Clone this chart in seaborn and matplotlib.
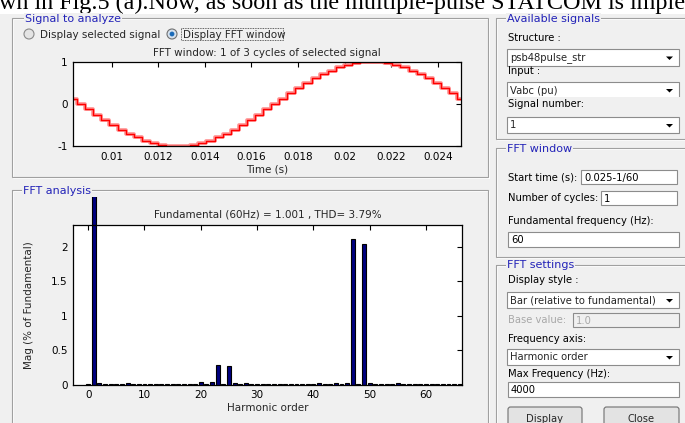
import numpy as np
import pandas as pd
import matplotlib
matplotlib.use("Agg")
import matplotlib.pyplot as plt
import seaborn as sns
from matplotlib.patches import Rectangle, Circle, Polygon, FancyBboxPatch
from matplotlib.transforms import Bbox, TransformedBbox
from matplotlib.ticker import FuncFormatter

# ---------------- data ----------------
fft_window_start = 0.025 - 1 / 60
fft_window_end = 0.025
first_step_time = 0.00851
step_period = 1 / 2880
signal_levels = [0.00, -0.13, -0.26, -0.38, -0.50, -0.61, -0.71, -0.79, -0.87, -0.92,
                 -0.97, -0.99, -1.00, -0.99, -0.97, -0.92, -0.87, -0.79, -0.71, -0.61,
                 -0.50, -0.38, -0.26, -0.13, 0.00, 0.13, 0.26, 0.38, 0.50, 0.61,
                 0.71, 0.79, 0.87, 0.92, 0.97, 0.99, 1.00, 0.99, 0.97, 0.92,
                 0.87, 0.79, 0.71, 0.61, 0.50, 0.38, 0.26, 0.13]

harmonic_order = list(range(0, 67))
magnitude_pct = [0.006, 100.0, 0.02, 0.006, 0.006, 0.006, 0.006, 0.02, 0.006, 0.006,   # 0-9
                 0.006, 0.006, 0.006, 0.006, 0.006, 0.006, 0.006, 0.006, 0.006, 0.006,  # 10-19
                 0.032, 0.006, 0.032, 0.28, 0.006, 0.268, 0.03, 0.006, 0.03, 0.006,     # 20-29
                 0.006, 0.006, 0.006, 0.006, 0.006, 0.006, 0.006, 0.006, 0.006, 0.006,  # 30-39
                 0.006, 0.02, 0.006, 0.006, 0.02, 0.006, 0.02, 2.12, 0.006, 2.04,       # 40-49
                 0.025, 0.006, 0.006, 0.006, 0.006, 0.02, 0.006, 0.006, 0.006, 0.006,   # 50-59
                 0.006, 0.006, 0.006, 0.006, 0.006, 0.006, 0.006]                       # 60-66

time_ticks = [0.01, 0.012, 0.014, 0.016, 0.018, 0.02, 0.022, 0.024]
signal_ticks = [-1, 0, 1]
harmonic_ticks = [0, 10, 20, 30, 40, 50, 60]
mag_ticks = [0, 0.5, 1, 1.5, 2]

top_title = "FFT window: 1 of 3 cycles of selected signal"
bottom_title = "Fundamental (60Hz) = 1.001 , THD= 3.79%"
caption_text = "wn in Fig.5 (a).Now, as soon as the multiple-pulse STATCOM is imple"

# step signal table
step_times = [fft_window_start] + [first_step_time + k * step_period for k in range(len(signal_levels))] + [fft_window_end]
step_values = [signal_levels[-1]] + signal_levels + [signal_levels[-1]]
sig_df = pd.DataFrame({"t": step_times, "v": step_values})
fft_df = pd.DataFrame({"h": harmonic_order, "m": magnitude_pct})

# ---------------- figure ----------------
W, H = 685, 423
GUI_BG = "#f0f0f0"
TITLE_BLUE = "#2323b8"
FS = 7.5
FS_PANEL = 7.2

sns.set_theme(style="white")
plt.rcParams["font.family"] = ["DejaVu Sans"]

fig = plt.figure(figsize=(W / 100, H / 100), dpi=100, facecolor=GUI_BG)
bg = fig.add_axes([0, 0, 1, 1], zorder=0)
bg.set_xlim(0, W)
bg.set_ylim(H, 0)
bg.axis("off")
bg.set_facecolor(GUI_BG)


def ax_rect(l, t, r, b):
    return [l / W, 1 - b / H, (r - l) / W, (b - t) / H]


# top white strip with the (cut-off) caption text of the surrounding document
bg.add_patch(Rectangle((0, 0), W, 14, fc="white", ec="none"))
bg.text(-1, 9.5, caption_text, family=["Liberation Serif"], fontsize=17.4, va="baseline", ha="left",
        color="black", clip_on=True)


def frame(x0, y0, x1, y1, title, tx):
    bg.add_patch(Rectangle((x0 + 1, y0 + 1), x1 - x0, y1 - y0, fill=False, ec="white", lw=0.8))
    bg.add_patch(Rectangle((x0, y0), x1 - x0, y1 - y0, fill=False, ec="#a0a0a0", lw=0.8))
    bg.text(tx, y0 + 0.5, title, color=TITLE_BLUE, fontsize=8, va="center", ha="left",
            bbox=dict(fc=GUI_BG, ec="none", pad=0.6))


frame(12, 18, 488, 177, "Signal to analyze", 25)
frame(12, 190, 488, 445, "FFT analysis", 23)
frame(496, 18, 700, 139, "Available signals", 507)
frame(496, 148, 700, 257, "FFT window", 507)
frame(496, 265, 700, 445, "FFT settings", 507)

# radio buttons
bg.add_patch(Circle((29, 34), 5, fc="#e4e4e4", ec="#8a8a8a", lw=0.8))
bg.text(40, 34.5, "Display selected signal", fontsize=FS, va="center", ha="left")
bg.add_patch(Circle((172, 34), 5, fc="#d6e2ee", ec="#707070", lw=0.8))
bg.add_patch(Circle((172, 34), 2.4, fc="#1a6ab8", ec="none"))
bg.text(183, 34.5, "Display FFT window", fontsize=FS, va="center", ha="left")
bg.add_patch(Rectangle((181.5, 28.5), 102, 12, fill=False, ec="#333333", lw=0.6, ls=(0, (1, 1))))


def label(x, y, s, color="black"):
    bg.text(x, y, s, fontsize=FS_PANEL, va="center", ha="left", color=color)


def popup(x0, y0, x1, y1, s):
    bg.add_patch(Rectangle((x0, y0), x1 - x0, y1 - y0, fc="white", ec="#8c8c8c", lw=0.8))
    yc = (y0 + y1) / 2
    bg.text(x0 + 3, yc + 0.5, s, fontsize=FS_PANEL, va="center", ha="left")
    bg.add_patch(Polygon([(x1 - 13, yc - 1), (x1 - 6, yc - 1), (x1 - 9.5, yc + 2.5)], closed=True, fc="black", ec="none"))


def editbox(x0, y0, x1, y1, s, color="black", fc="white"):
    bg.add_patch(Rectangle((x0, y0), x1 - x0, y1 - y0, fc=fc, ec="#8c8c8c", lw=0.8))
    bg.text(x0 + 3, (y0 + y1) / 2 + 0.5, s, fontsize=FS_PANEL, va="center", ha="left", color=color)


def button(x0, y0, x1, y1, s):
    bg.add_patch(FancyBboxPatch((x0, y0), x1 - x0, y1 - y0, boxstyle="round,pad=0,rounding_size=2.5",
                                fc="#e3e3e3", ec="#707070", lw=0.8))
    bg.text((x0 + x1) / 2, (y0 + y1) / 2 + 2, s, fontsize=FS_PANEL, va="center", ha="center")


# Available signals
label(508, 38, "Structure :")
popup(507, 49, 679, 66, "psb48pulse_str")
label(508, 71, "Input :")
popup(507, 82, 679, 98, "Vabc (pu)")
bg.add_patch(Rectangle((505, 97.5), 176, 13, fc=GUI_BG, ec="none"))
label(508, 104, "Signal number:")
popup(507, 117, 679, 133, "1")

# FFT window
label(508, 177, "Start time (s):")
editbox(581, 170, 677, 184, "0.025-1/60")
label(508, 198, "Number of cycles:")
editbox(601, 191, 677, 205, "1")
label(508, 221, "Fundamental frequency (Hz):")
editbox(508, 232, 679, 247, "60")

# FFT settings
label(508, 280, "Display style :")
popup(507, 292, 679, 308, "Bar (relative to fundamental)")
label(508, 320, "Base value:", color="#a8a8a8")
editbox(573, 313, 679, 327, "1.0", color="#a8a8a8", fc="#f0f0f0")
label(508, 339, "Frequency axis:")
popup(507, 349, 679, 365, "Harmonic order")
label(508, 374, "Max Frequency (Hz):")
editbox(508, 382, 679, 397, "4000")
button(508, 407, 582, 428, "Display")
button(604, 407, 679, 428, "Close")

# ---------------- plots ----------------
fmt = FuncFormatter(lambda v, p: f"{v:g}")


def style_axes(ax):
    ax.set_facecolor("white")
    for sp in ax.spines.values():
        sp.set_color("black")
        sp.set_linewidth(0.9)
    ax.tick_params(direction="in", top=True, right=True, length=3.5, width=0.8,
                   labelsize=FS, colors="black", pad=4)
    ax.xaxis.set_major_formatter(fmt)
    ax.yaxis.set_major_formatter(fmt)


ax1 = fig.add_axes(ax_rect(73, 62, 461, 146), zorder=2)
sns.lineplot(data=sig_df, x="t", y="v", drawstyle="steps-post", color="#ff9090", lw=2.6,
             estimator=None, sort=False, ax=ax1)
sns.lineplot(data=sig_df, x="t", y="v", drawstyle="steps-post", color="red", lw=1.0,
             estimator=None, sort=False, ax=ax1)
ax1.set_xlim(fft_window_start, fft_window_end)
ax1.set_ylim(-1, 1)
ax1.set_xticks(time_ticks)
ax1.set_yticks(signal_ticks)
style_axes(ax1)
ax1.set_title(top_title, fontsize=FS, pad=4)
ax1.set_xlabel("Time (s)", fontsize=FS)
ax1.set_ylabel("")
ax1.xaxis.set_label_coords(0.5, -0.215)

ax2 = fig.add_axes(ax_rect(73, 224.7, 462, 384.7), zorder=2)
sns.barplot(data=fft_df, x="h", y="m", native_scale=True, width=0.7, color="#000080",
            saturation=1, edgecolor="black", linewidth=0.8, errorbar=None, ax=ax2)
ax2.set_xlim(-2.7, 66.4)
ax2.set_ylim(0, 2.325)
ax2.set_xticks(harmonic_ticks)
ax2.set_yticks(mag_ticks)
style_axes(ax2)
ax2.set_title(bottom_title, fontsize=FS, pad=5.5)
ax2.set_xlabel("Harmonic order", fontsize=FS)
ax2.set_ylabel("Mag (% of Fundamental)", fontsize=FS)
ax2.xaxis.set_label_coords(0.5, -0.115)
ax2.yaxis.set_label_coords(-0.1, 0.5)

# let the fundamental bar run above the axes, as in the GUI
clip = TransformedBbox(Bbox.from_extents(73 / W, 1 - 384.7 / H, 462 / W, 1 - 196.7 / H), fig.transFigure)
for p in ax2.patches:
    p.set_clip_path(None)
    p.set_clip_box(clip)

fig.savefig("out.png", dpi=100, facecolor=GUI_BG)
